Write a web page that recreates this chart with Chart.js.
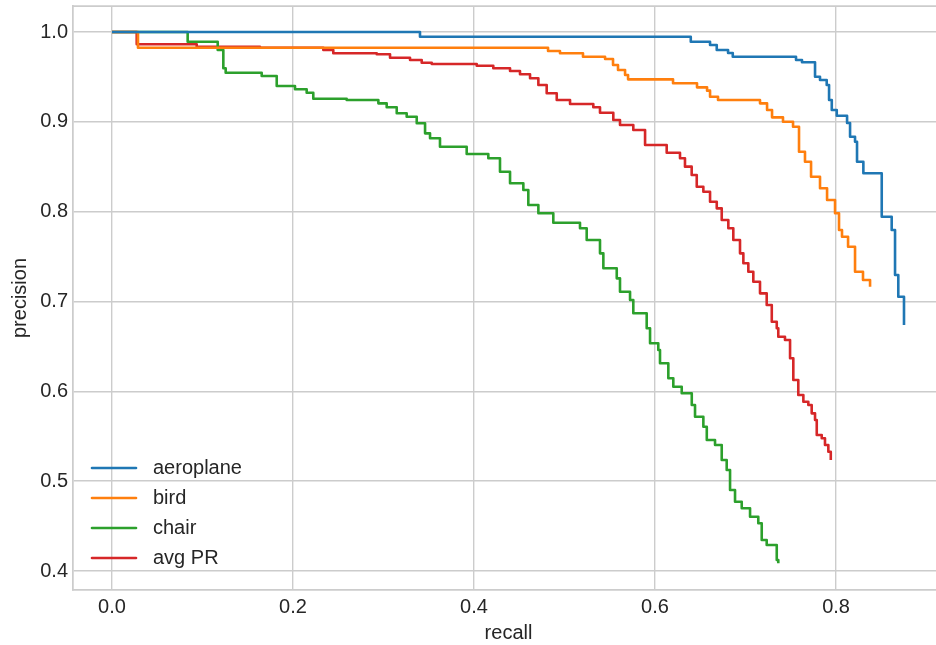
<!DOCTYPE html>
<html>
<head>
<meta charset="utf-8">
<script src="https://cdn.jsdelivr.net/npm/chart.js@4.4.1/dist/chart.umd.min.js"></script>
<style>
  html, body { margin: 0; padding: 0; background: #fff; overflow: hidden; }
  #wrap { width: 936px; height: 645px; overflow: hidden; position: relative; }
  canvas { display: block; }
</style>
</head>
<body>
<div id="wrap"><canvas id="pr" width="944" height="645" style="width:944px;height:645px"></canvas></div>
<script>
// Precision-recall curves (recall, precision) per class
const seriesNames = ['aeroplane', 'bird', 'chair', 'avg PR'];

const recallAeroplane = [0, 0.3403, 0.6395, 0.6608, 0.6682, 0.6807, 0.6859, 0.7558, 0.7624, 0.7768, 0.7823, 0.7897, 0.7923, 0.7953, 0.8008, 0.8122, 0.8155, 0.8210, 0.8232, 0.8302, 0.8505, 0.8615, 0.8652, 0.8688, 0.8751];
const precisionAeroplane = [1.0, 0.9948, 0.9892, 0.9855, 0.9800, 0.9766, 0.9725, 0.9688, 0.9663, 0.9502, 0.9466, 0.9410, 0.9243, 0.9132, 0.9068, 0.8987, 0.8834, 0.8779, 0.8556, 0.8427, 0.7944, 0.7796, 0.7295, 0.7053, 0.6738];

const recallBird = [0, 0.0287, 0.4818, 0.4950, 0.5204, 0.5448, 0.5536, 0.5591, 0.5669, 0.5702, 0.6199, 0.6464, 0.6575, 0.6608, 0.6696, 0.7160, 0.7238, 0.7293, 0.7414, 0.7525, 0.7591, 0.7657, 0.7724, 0.7823, 0.7901, 0.7989, 0.8033, 0.8066, 0.8133, 0.8210, 0.8298, 0.8376];
const precisionBird = [1.0, 0.9825, 0.9788, 0.9763, 0.9725, 0.9700, 0.9633, 0.9577, 0.9521, 0.9473, 0.9429, 0.9384, 0.9347, 0.9280, 0.9243, 0.9206, 0.9132, 0.9050, 0.9001, 0.8946, 0.8667, 0.8556, 0.8389, 0.8260, 0.8130, 0.7982, 0.7796, 0.7721, 0.7610, 0.7332, 0.7239, 0.7165];

const recallChair = [0, 0.0836, 0.1168, 0.1230, 0.1256, 0.1654, 0.1820, 0.2022, 0.2151, 0.2224, 0.2593, 0.2943, 0.3035, 0.3146, 0.3256, 0.3367, 0.3459, 0.3514, 0.3624, 0.3919, 0.4158, 0.4287, 0.4398, 0.4545, 0.4600, 0.4711, 0.4876, 0.5171, 0.5245, 0.5392, 0.5429, 0.5577, 0.5613, 0.5724, 0.5760, 0.5908, 0.5945, 0.6036, 0.6055, 0.6147, 0.6202, 0.6295, 0.6406, 0.6442, 0.6534, 0.6572, 0.6663, 0.6737, 0.6792, 0.6829, 0.6884, 0.6958, 0.7050, 0.7141, 0.7179, 0.7234, 0.7345, 0.7362];
const precisionChair = [1.0, 0.9892, 0.9800, 0.9596, 0.9547, 0.9510, 0.9399, 0.9362, 0.9324, 0.9257, 0.9243, 0.9206, 0.9162, 0.9095, 0.9057, 0.8984, 0.8872, 0.8817, 0.8723, 0.8642, 0.8594, 0.8445, 0.8316, 0.8241, 0.8074, 0.7982, 0.7877, 0.7815, 0.7685, 0.7536, 0.7370, 0.7258, 0.7109, 0.7017, 0.6869, 0.6702, 0.6535, 0.6460, 0.6312, 0.6145, 0.6051, 0.5978, 0.5848, 0.5717, 0.5606, 0.5458, 0.5402, 0.5235, 0.5124, 0.4901, 0.4771, 0.4698, 0.4604, 0.4531, 0.4345, 0.4289, 0.4122, 0.4085];

const recallAvg = [0, 0.0273, 0.0936, 0.1635, 0.2335, 0.2445, 0.2925, 0.3072, 0.3293, 0.3422, 0.3533, 0.4030, 0.4213, 0.4398, 0.4508, 0.4619, 0.4711, 0.4803, 0.4914, 0.5061, 0.5318, 0.5392, 0.5539, 0.5613, 0.5760, 0.5890, 0.6129, 0.6276, 0.6331, 0.6405, 0.6461, 0.6534, 0.6608, 0.6682, 0.6737, 0.6810, 0.6865, 0.6939, 0.6976, 0.7031, 0.7086, 0.7160, 0.7234, 0.7290, 0.7345, 0.7362, 0.7436, 0.7492, 0.7528, 0.7583, 0.7639, 0.7694, 0.7731, 0.7768, 0.7787, 0.7842, 0.7878, 0.7915, 0.7942];
const precisionAvg = [1.0, 0.9863, 0.9836, 0.9825, 0.9800, 0.9763, 0.9752, 0.9714, 0.9688, 0.9658, 0.9644, 0.9625, 0.9596, 0.9566, 0.9529, 0.9485, 0.9410, 0.9318, 0.9243, 0.9198, 0.9162, 0.9102, 0.9020, 0.8965, 0.8909, 0.8742, 0.8656, 0.8594, 0.8501, 0.8408, 0.8278, 0.8222, 0.8111, 0.8037, 0.7907, 0.7815, 0.7685, 0.7536, 0.7425, 0.7332, 0.7220, 0.7091, 0.6961, 0.6775, 0.6702, 0.6608, 0.6571, 0.6368, 0.6126, 0.5959, 0.5884, 0.5848, 0.5755, 0.5681, 0.5514, 0.5477, 0.5402, 0.5328, 0.5236];

const xTickValues = [0.0, 0.2, 0.4, 0.6, 0.8];
const yTickValues = [0.4, 0.5, 0.6, 0.7, 0.8, 0.9, 1.0];

const lineColors = ['#1f77b4', '#ff7f0e', '#2ca02c', '#d62728'];
const FONT = "'Liberation Sans', Arial, Helvetica, sans-serif";
const TEXT = '#262626';
const GRID = '#cccccc';

function toPoints(rs, ps) {
  return rs.map((r, i) => ({ x: r, y: ps[i] }));
}

const curves = [
  toPoints(recallAeroplane, precisionAeroplane),
  toPoints(recallBird, precisionBird),
  toPoints(recallChair, precisionChair),
  toPoints(recallAvg, precisionAvg)
];

// Top frame line of the axes box
const topSpine = {
  id: 'topSpine',
  beforeDatasetsDraw(chart) {
    const { ctx, chartArea } = chart;
    ctx.save();
    ctx.strokeStyle = GRID;
    ctx.lineWidth = 1.75;
    ctx.beginPath();
    ctx.moveTo(chartArea.left, chartArea.top);
    ctx.lineTo(chartArea.right, chartArea.top);
    ctx.stroke();
    ctx.restore();
  }
};

// Legend box inside the lower-left corner of the plot
const innerLegend = {
  id: 'innerLegend',
  afterDraw(chart) {
    const { ctx, chartArea } = chart;
    ctx.save();
    ctx.font = '20px ' + FONT;
    ctx.textBaseline = 'middle';
    ctx.textAlign = 'left';
    chart.data.datasets.forEach((ds, i) => {
      const y = chartArea.bottom - 122 + i * 30;
      const x0 = chartArea.left + 19;
      ctx.strokeStyle = ds.borderColor;
      ctx.lineWidth = 2.6;
      ctx.lineCap = 'round';
      ctx.beginPath();
      ctx.moveTo(x0, y);
      ctx.lineTo(x0 + 44, y);
      ctx.stroke();
      ctx.fillStyle = TEXT;
      ctx.fillText(ds.label, x0 + 61, y);
    });
    ctx.restore();
  }
};

function noEdgePadding(s) {
  s.paddingTop = 0;
  s.paddingBottom = 0;
  s.paddingLeft = 0;
  s.paddingRight = 0;
}

new Chart(document.getElementById('pr'), {
  type: 'line',
  data: {
    datasets: curves.map((pts, i) => ({
      label: seriesNames[i],
      data: pts,
      borderColor: lineColors[i],
      backgroundColor: lineColors[i],
      borderWidth: 2.6,
      pointRadius: 0,
      stepped: true,
      fill: false,
      borderJoinStyle: 'round'
    }))
  },
  options: {
    responsive: false,
    animation: false,
    devicePixelRatio: 1,
    layout: { padding: { top: 6, left: 0, right: 0, bottom: 0 } },
    plugins: {
      legend: { display: false },
      tooltip: { enabled: false }
    },
    scales: {
      x: {
        type: 'linear',
        min: -0.0431,
        max: 0.9193,
        afterBuildTicks(s) { s.ticks = xTickValues.map(v => ({ value: v })); },
        afterFit(s) { s.height = 55; noEdgePadding(s); },
        ticks: {
          callback: v => Number(v).toFixed(1),
          font: { family: FONT, size: 20 },
          color: TEXT,
          padding: 5,
          maxRotation: 0
        },
        grid: { color: GRID, lineWidth: 1.4, drawTicks: false },
        border: { color: GRID, width: 1.75 },
        title: {
          display: true,
          text: 'recall',
          font: { family: FONT, size: 20 },
          color: TEXT,
          padding: { top: 0, bottom: 0 }
        }
      },
      y: {
        type: 'linear',
        min: 0.37885,
        max: 1.02895,
        afterBuildTicks(s) { s.ticks = yTickValues.map(v => ({ value: v })); },
        afterFit(s) { s.width = 73; noEdgePadding(s); },
        ticks: {
          callback: v => Number(v).toFixed(1),
          font: { family: FONT, size: 20 },
          color: TEXT,
          padding: 5
        },
        grid: { color: GRID, lineWidth: 1.4, drawTicks: false },
        border: { color: GRID, width: 1.75 },
        title: {
          display: true,
          text: 'precision',
          font: { family: FONT, size: 20 },
          color: TEXT,
          padding: { top: 8, bottom: 0 }
        }
      }
    }
  },
  plugins: [topSpine, innerLegend]
});
</script>
</body>
</html>
